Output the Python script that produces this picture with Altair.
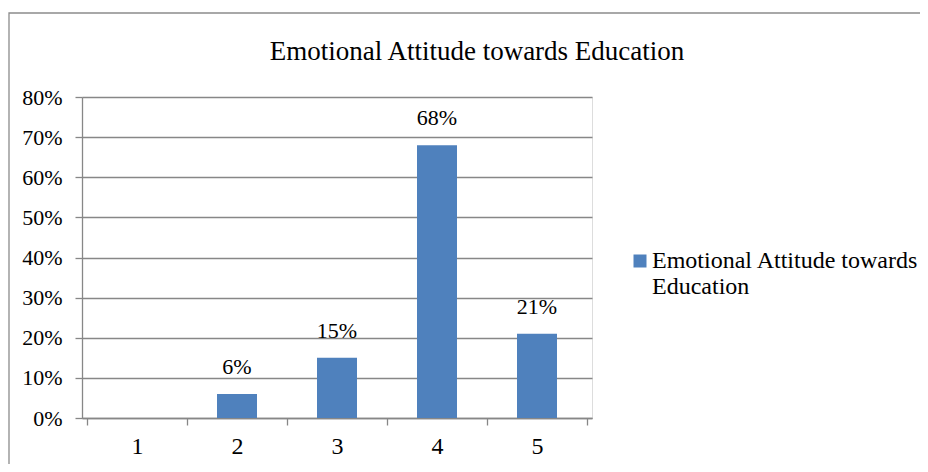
import altair as alt
import pandas as pd

categories = [1, 2, 3, 4, 5]
values = [0.0, 0.06, 0.15, 0.68, 0.21]
series_name = "Emotional Attitude towards Education"
chart_title = "Emotional Attitude towards Education"
x_tick_values = [0.5, 1, 1.5, 2, 2.5, 3, 3.5, 4, 4.5, 5, 5.5]

df = pd.DataFrame({"cat": categories, "value": values, "series": series_name})

FONT = "Liberation Serif"
GRAY = "#878787"
BLUE = "#4F81BD"

x_enc = alt.X(
    "cat:Q",
    scale=alt.Scale(domain=[0.5, 5.5], nice=False, zero=False),
    axis=alt.Axis(
        title=None,
        values=x_tick_values,
        labelExpr="datum.value % 1 === 0 ? datum.value : ''",
        tickOpacity={"condition": {"test": "datum.value % 1 === 0", "value": 0}, "value": 1},
        grid=False,
        tickSize=7,
        tickColor=GRAY,
        tickWidth=1.3,
        domainColor=GRAY,
        domainWidth=1.3,
        labelFont=FONT,
        labelFontSize=24,
        labelColor="black",
        labelPadding=9,
        labelFlush=False,
        labelOverlap=False,
    ),
)

y_enc = alt.Y(
    "value:Q",
    scale=alt.Scale(domain=[0, 0.8], nice=False),
    axis=alt.Axis(
        title=None,
        format=".0%",
        values=[0, 0.1, 0.2, 0.3, 0.4, 0.5, 0.6, 0.7, 0.8],
        grid=True,
        gridColor=GRAY,
        gridWidth=1.3,
        tickSize=7,
        tickColor=GRAY,
        tickWidth=1.3,
        domainColor=GRAY,
        domainWidth=1.3,
        labelFont=FONT,
        labelFontSize=22,
        labelColor="black",
        labelPadding=13,
    ),
)

bars = alt.Chart(df).mark_bar(size=40).encode(
    x=x_enc,
    y=y_enc,
    color=alt.Color(
        "series:N",
        scale=alt.Scale(range=[BLUE]),
        legend=alt.Legend(
            title=None,
            orient="none",
            legendX=546,
            legendY=152,
            symbolType="square",
            symbolSize=169,
            symbolStrokeWidth=0,
            labelFont=FONT,
            labelFontSize=24,
            labelColor="black",
            labelLimit=500,
            labelOffset=0,
            labelExpr="[slice(datum.label, 0, 26), slice(datum.label, 27)]",
        ),
    ),
)

labels = alt.Chart(df).transform_filter("datum.value > 0").mark_text(
    font=FONT, fontSize=22, color="black", baseline="alphabetic", dy=-20
).encode(
    x="cat:Q",
    y="value:Q",
    text=alt.Text("value:Q", format=".0%"),
)

frame = alt.Chart(pd.DataFrame({"f": [0]})).mark_rect(
    filled=False, stroke="#8c8c8c", strokeWidth=1.3, clip=False
).encode(
    x=alt.value(-73), x2=alt.value(900), y=alt.value(-84), y2=alt.value(460)
)

chart = alt.layer(frame, bars, labels).properties(
    width=510,
    height=321,
    autosize="none",
    padding={"left": 74, "top": 89, "right": 328, "bottom": 46},
    title=alt.Title(
        chart_title,
        font=FONT,
        fontSize=27,
        fontWeight="normal",
        color="black",
        anchor="middle",
        frame="group",
        dx=140,
        offset=-75,
        baseline="alphabetic",
    ),
).configure_view(stroke=None).configure(background="white")

chart.save("out.html", embed_options={"renderer": "svg", "actions": False})
